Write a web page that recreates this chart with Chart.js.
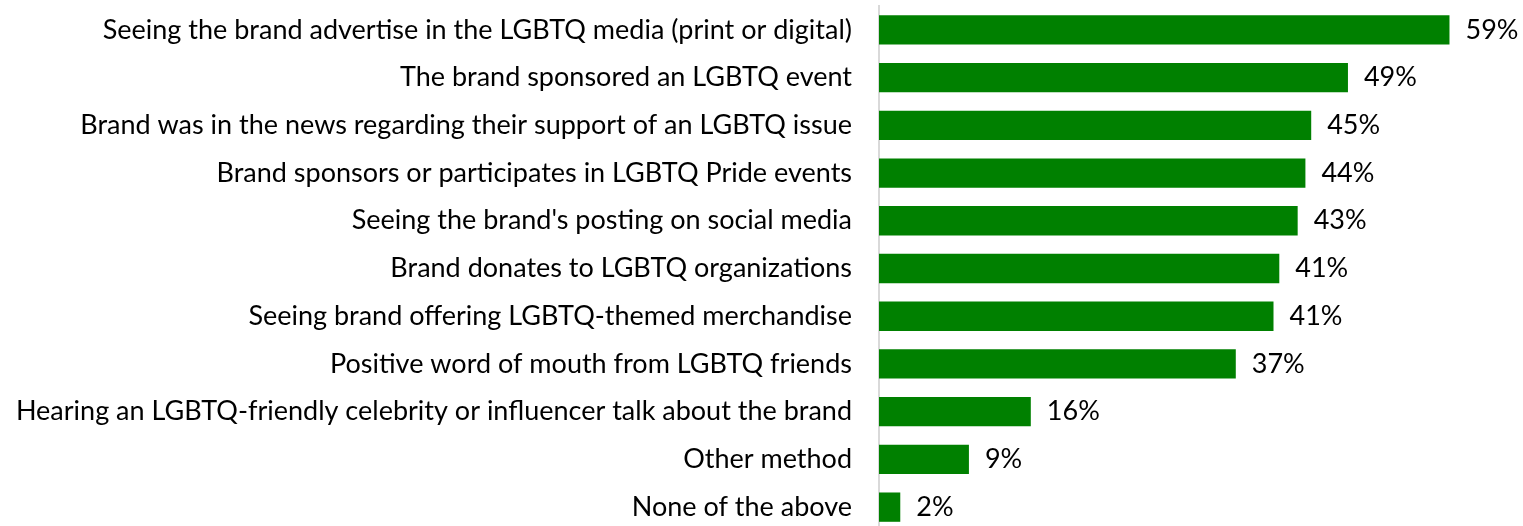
<!DOCTYPE html>
<html>
<head>
<meta charset="utf-8">
<script src="https://cdn.jsdelivr.net/npm/chart.js@4/dist/chart.umd.min.js"></script>
<style>
  html, body { margin: 0; padding: 0; background: #ffffff; overflow: hidden; }
  #wrap { position: relative; width: 1523px; height: 531px; }
</style>
</head>
<body>
<div id="wrap"><canvas id="c"></canvas></div>
<script>
const categories = [
  "Seeing the brand advertise in the LGBTQ media (print or digital)",
  "The brand sponsored an LGBTQ event",
  "Brand was in the news regarding their support of an LGBTQ issue",
  "Brand sponsors or participates in LGBTQ Pride events",
  "Seeing the brand's posting on social media",
  "Brand donates to LGBTQ organizations",
  "Seeing brand offering LGBTQ-themed merchandise",
  "Positive word of mouth from LGBTQ friends",
  "Hearing an LGBTQ-friendly celebrity or influencer talk about the brand",
  "Other method",
  "None of the above"
];
const values = [59.0, 48.5, 44.7, 44.1, 43.3, 41.4, 40.8, 36.9, 15.7, 9.3, 2.2];
const valueLabels = ["59%", "49%", "45%", "44%", "43%", "41%", "41%", "37%", "16%", "9%", "2%"];

const FONT_FAMILY = "Lato";
// fit font so the longest label spans the same width as the reference
const mctx = document.createElement('canvas').getContext('2d');
mctx.font = "100px " + FONT_FAMILY;
const longest = categories.reduce((a, b) => mctx.measureText(b).width > mctx.measureText(a).width ? b : a);
const fontSize = Math.round(100 * 836 / mctx.measureText(longest).width * 10) / 10;

const valueLabelPlugin = {
  id: 'valueLabels',
  afterDatasetsDraw(chart) {
    const ctx = chart.ctx;
    const meta = chart.getDatasetMeta(0);
    ctx.save();
    ctx.font = fontSize + "px " + FONT_FAMILY;
    ctx.fillStyle = "#000000";
    ctx.textAlign = "left";
    ctx.textBaseline = "middle";
    meta.data.forEach((bar, i) => {
      ctx.fillText(valueLabels[i], bar.x + 16, bar.y);
    });
    ctx.restore();
  }
};

new Chart(document.getElementById('c'), {
  type: 'bar',
  data: {
    labels: categories,
    datasets: [{
      data: values,
      backgroundColor: "#008000",
      borderWidth: 0,
      categoryPercentage: 1.0,
      barPercentage: 0.614
    }]
  },
  options: {
    indexAxis: 'y',
    responsive: true,
    maintainAspectRatio: false,
    animation: false,
    layout: { padding: { top: 6, right: 1, bottom: 0, left: 0 } },
    plugins: { legend: { display: false }, tooltip: { enabled: false } },
    scales: {
      x: {
        display: false,
        min: 0,
        max: 66.5,
        grid: { display: false }
      },
      y: {
        grid: { display: false },
        border: { display: true, color: "#d9d9d9", width: 2 },
        ticks: {
          color: "#000000",
          padding: 19,
          autoSkip: false,
          font: { family: FONT_FAMILY, size: fontSize }
        },
        afterFit(scale) {
          scale.width = 879;
          scale.paddingTop = 0;
          scale.paddingBottom = 0;
        }
      }
    }
  },
  plugins: [valueLabelPlugin]
});
</script>
</body>
</html>
